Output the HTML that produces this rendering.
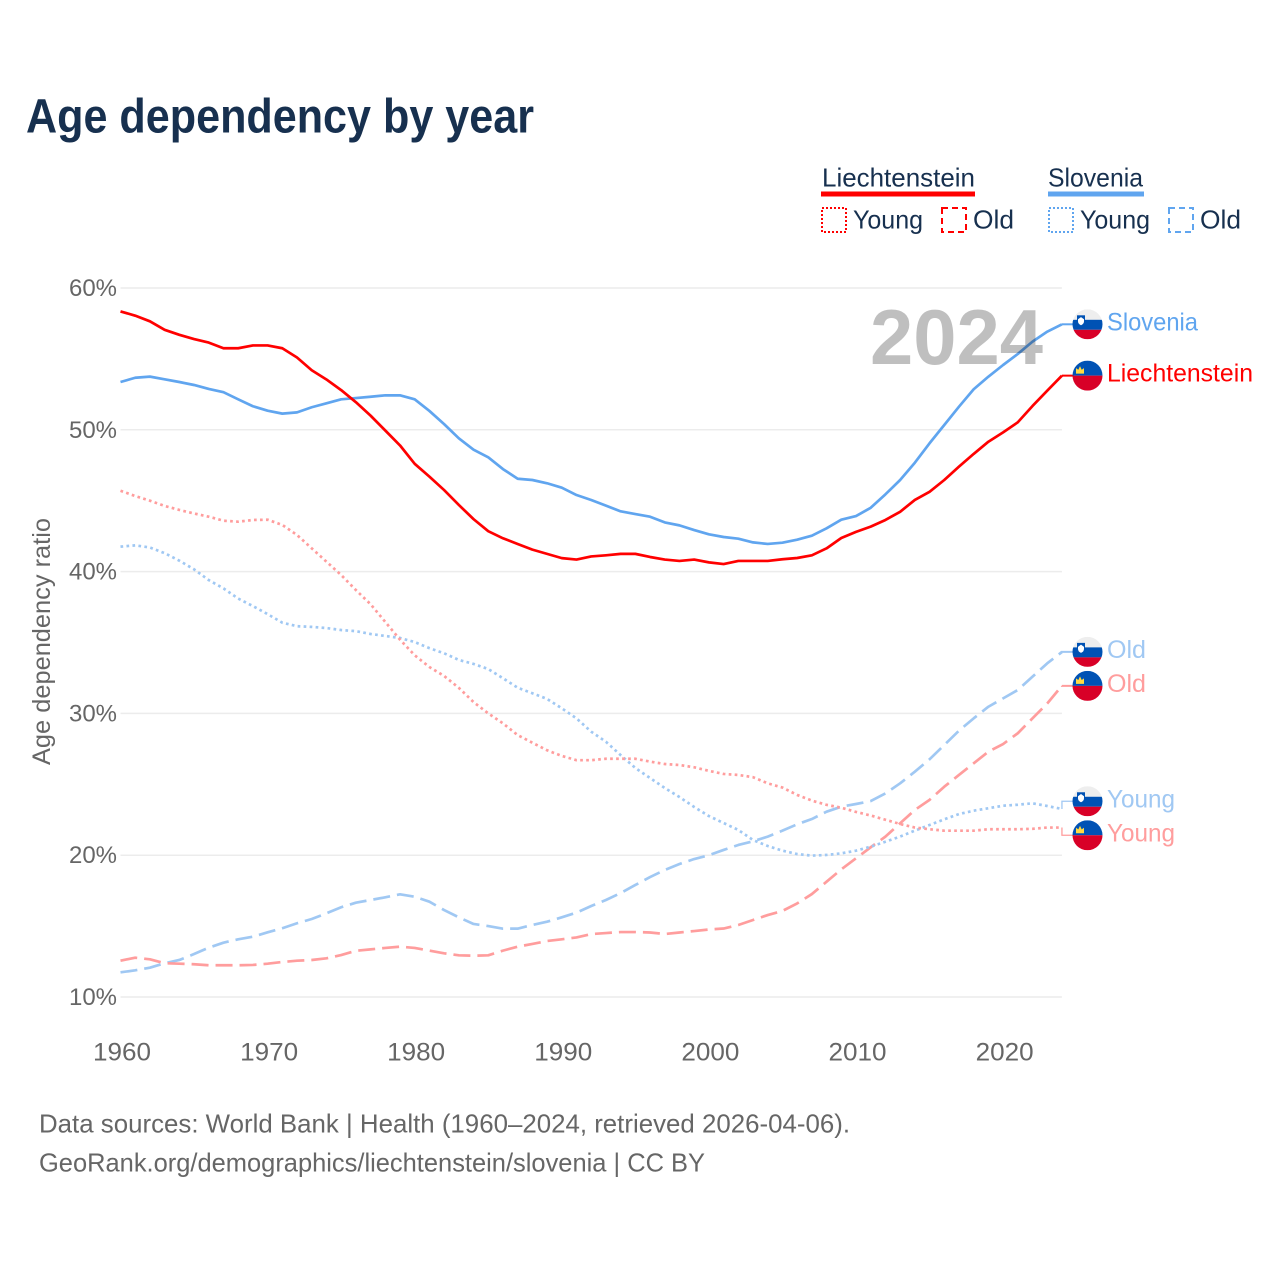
<!DOCTYPE html>
<html lang="en">
<head>
<meta charset="utf-8">
<title>Age dependency by year</title>
<style>
html,body{margin:0;padding:0;background:#fff;}
svg{display:block;font-family:"Liberation Sans",sans-serif;}
</style>
</head>
<body>
<svg id="chart" xmlns="http://www.w3.org/2000/svg" width="1280" height="1280" viewBox="0 0 1280 1280">
  <rect x="0" y="0" width="1280" height="1280" fill="#fff"/>
  <text x="26" y="132.5" font-size="48" font-weight="700" fill="#17304f" textLength="508" lengthAdjust="spacingAndGlyphs">Age dependency by year</text>

  <g fill="#17304f" font-size="26">
    <text x="822" y="186.5" textLength="153" lengthAdjust="spacingAndGlyphs">Liechtenstein</text>
    <rect x="821" y="191.5" width="154" height="5" fill="#ff0000"/>
    <rect x="822" y="208" width="24" height="24" fill="none" stroke="#ff0000" stroke-width="2" stroke-dasharray="2 2"/>
    <text x="853" y="228.5" textLength="70" lengthAdjust="spacingAndGlyphs">Young</text>
    <rect x="942" y="208" width="24" height="24" fill="none" stroke="#ff0000" stroke-width="2" stroke-dasharray="6 4"/>
    <text x="973" y="228.5" textLength="41" lengthAdjust="spacingAndGlyphs">Old</text>
    <text x="1048" y="186.5" textLength="95" lengthAdjust="spacingAndGlyphs">Slovenia</text>
    <rect x="1048" y="191.5" width="96" height="5" fill="#60a5ef"/>
    <rect x="1049" y="208" width="24" height="24" fill="none" stroke="#60a5ef" stroke-width="2" stroke-dasharray="2 2"/>
    <text x="1080" y="228.5" textLength="70" lengthAdjust="spacingAndGlyphs">Young</text>
    <rect x="1169" y="208" width="24" height="24" fill="none" stroke="#60a5ef" stroke-width="2" stroke-dasharray="6 4"/>
    <text x="1200" y="228.5" textLength="41" lengthAdjust="spacingAndGlyphs">Old</text>
  </g>

  <g id="grid"></g>
  <g id="yticks"></g>
  <g id="xticks"></g>
  <text transform="translate(50,641.5) rotate(-90)" text-anchor="middle" font-size="25" fill="#666" textLength="247" lengthAdjust="spacingAndGlyphs">Age dependency ratio</text>

  <g id="series"></g>
  <text x="870" y="364" font-size="78" font-weight="700" fill="#000" fill-opacity="0.25" textLength="173" lengthAdjust="spacingAndGlyphs">2024</text>
  <g id="endlabels"></g>

  <g font-size="26" fill="#666">
    <text x="39" y="1132.5" textLength="811" lengthAdjust="spacingAndGlyphs">Data sources: World Bank | Health (1960–2024, retrieved 2026-04-06).</text>
    <text x="39" y="1171.5" textLength="666" lengthAdjust="spacingAndGlyphs">GeoRank.org/demographics/liechtenstein/slovenia | CC BY</text>
  </g>
</svg>
<script>
var firstYear = 1960;
var xTickYears = [1960, 1970, 1980, 1990, 2000, 2010, 2020];
var yTickValues = [10, 20, 30, 40, 50, 60];

var liechtensteinTotal = [
  58.35,58.05,57.65,57.05,56.7,56.4,56.15,55.75,55.75,55.95,
  55.95,55.75,55.1,54.2,53.55,52.8,51.95,51.0,49.95,48.9,
  47.6,46.7,45.75,44.7,43.7,42.85,42.35,41.95,41.55,41.25,
  40.95,40.85,41.07,41.15,41.25,41.25,41.03,40.85,40.75,40.85,
  40.65,40.53,40.75,40.75,40.75,40.87,40.96,41.15,41.64,42.37,
  42.8,43.17,43.64,44.22,45.05,45.63,46.46,47.4,48.3,49.16,
  49.82,50.53,51.68,52.76,53.82
];
var sloveniaTotal = [
  53.37,53.67,53.75,53.56,53.37,53.16,52.88,52.65,52.15,51.66,
  51.35,51.14,51.23,51.59,51.87,52.15,52.24,52.33,52.43,52.43,
  52.15,51.33,50.4,49.4,48.6,48.06,47.23,46.55,46.46,46.23,
  45.92,45.4,45.05,44.65,44.25,44.06,43.87,43.47,43.26,42.93,
  42.63,42.44,42.32,42.06,41.95,42.04,42.25,42.53,43.05,43.66,
  43.92,44.5,45.45,46.46,47.68,49.05,50.34,51.63,52.86,53.75,
  54.57,55.35,56.22,56.92,57.44
];
var liechtensteinYoung = [
  45.7,45.33,45.0,44.63,44.35,44.1,43.87,43.59,43.52,43.64,
  43.66,43.29,42.58,41.64,40.7,39.76,38.7,37.7,36.45,35.2,
  34.1,33.27,32.64,31.8,30.8,30.0,29.3,28.47,27.93,27.4,
  27.0,26.7,26.7,26.8,26.8,26.8,26.6,26.43,26.36,26.2,
  25.95,25.73,25.66,25.5,25.07,24.77,24.25,23.85,23.55,23.35,
  23.05,22.8,22.5,22.2,21.95,21.83,21.73,21.73,21.73,21.83,
  21.83,21.83,21.86,21.95,21.95
];
var sloveniaYoung = [
  41.76,41.85,41.7,41.3,40.77,40.16,39.4,38.82,38.1,37.57,
  37.0,36.4,36.15,36.1,36.02,35.88,35.8,35.6,35.46,35.32,
  35.03,34.6,34.24,33.77,33.49,33.13,32.48,31.81,31.42,31.02,
  30.36,29.65,28.71,28.0,27.06,26.15,25.44,24.74,24.1,23.4,
  22.76,22.27,21.78,21.07,20.65,20.32,20.08,19.97,20.02,20.13,
  20.32,20.6,20.95,21.31,21.73,22.13,22.53,22.9,23.14,23.31,
  23.49,23.56,23.66,23.47,23.26
];
var sloveniaOld = [
  11.74,11.88,12.07,12.38,12.61,13.03,13.48,13.83,14.07,14.25,
  14.56,14.85,15.2,15.5,15.9,16.33,16.65,16.84,17.03,17.24,
  17.07,16.72,16.13,15.62,15.15,15.0,14.82,14.82,15.08,15.31,
  15.62,15.95,16.42,16.84,17.33,17.9,18.46,18.96,19.38,19.73,
  20.0,20.37,20.72,20.98,21.31,21.73,22.18,22.55,23.07,23.42,
  23.61,23.82,24.36,25.07,25.89,26.76,27.77,28.78,29.65,30.47,
  31.06,31.65,32.59,33.53,34.33
];
var liechtensteinOld = [
  12.56,12.77,12.66,12.38,12.35,12.31,12.24,12.24,12.24,12.26,
  12.35,12.47,12.56,12.61,12.73,12.96,13.26,13.36,13.46,13.55,
  13.46,13.27,13.08,12.94,12.91,12.94,13.27,13.55,13.74,13.95,
  14.07,14.2,14.44,14.51,14.58,14.58,14.55,14.44,14.55,14.65,
  14.76,14.83,15.08,15.43,15.78,16.07,16.6,17.26,18.13,19.0,
  19.78,20.56,21.31,22.25,23.19,23.9,24.83,25.66,26.48,27.3,
  27.84,28.6,29.65,30.7,31.95
];

var NS = 'http://www.w3.org/2000/svg';
function xScale(year) { return 120.5 + (year - firstYear) * 14.71; }
function yScale(v) { return 288 + (60 - v) * 14.18; }
function make(tag, attrs, parent) {
  var node = document.createElementNS(NS, tag);
  for (var k in attrs) node.setAttribute(k, attrs[k]);
  parent.appendChild(node);
  return node;
}

var gridG = document.getElementById('grid');
var yTicksG = document.getElementById('yticks');
var xTicksG = document.getElementById('xticks');
var seriesG = document.getElementById('series');
var labelsG = document.getElementById('endlabels');

yTickValues.forEach(function (v) {
  var line = make('line', {x1: 120.5, x2: xScale(2024), y1: yScale(v), y2: yScale(v), stroke: '#ececec', 'stroke-width': 1.5}, gridG);
  
  
  var t = make('text', {x: 69, y: yScale(v) + 8, 'font-size': 24.5, fill: '#666', textLength: 48, lengthAdjust: 'spacingAndGlyphs'}, yTicksG);
  
  
  t.textContent = v + '%';
});
xTickYears.forEach(function (y) {
  var t = make('text', {x: xScale(y) + 1.5 - 29, y: 1060.5, 'font-size': 25, fill: '#666', textLength: 58, lengthAdjust: 'spacingAndGlyphs'}, xTicksG);
  
  
  t.textContent = y;
});

var seriesList = [
  {key: 'slovenia-old', values: sloveniaOld, color: '#a0c8f3', width: 2.7, dash: '17 7', label: 'Old', country: 'SI', textW: 39},
  {key: 'liechtenstein-old', values: liechtensteinOld, color: '#ff9d9d', width: 2.7, dash: '17 7', label: 'Old', country: 'LI', textW: 39},
  {key: 'slovenia-young', values: sloveniaYoung, color: '#a0c8f3', width: 2.7, dash: '2.7 3.3', label: 'Young', country: 'SI', textW: 68},
  {key: 'liechtenstein-young', values: liechtensteinYoung, color: '#ff9d9d', width: 2.7, dash: '2.7 3.3', label: 'Young', country: 'LI', textW: 68},
  {key: 'slovenia-total', values: sloveniaTotal, color: '#60a5ef', width: 2.7, dash: 'none', label: 'Slovenia', country: 'SI', textW: 91},
  {key: 'liechtenstein-total', values: liechtensteinTotal, color: '#ff0000', width: 2.7, dash: 'none', label: 'Liechtenstein', country: 'LI', textW: 146}
];

seriesList.forEach(function (s) {
  var pts = s.values.map(function (v, i) {
    return xScale(firstYear + i).toFixed(2) + ',' + yScale(v).toFixed(2);
  }).join(' ');
  var line = make('polyline', {points: pts, fill: 'none', stroke: s.color, 'stroke-width': s.width, 'stroke-dasharray': s.dash, 'stroke-linejoin': 'round'}, seriesG);
  
  
});

/* dodge end labels: groups closer than the label pitch are spread around their mean */
var pitch = 34;
var ordered = seriesList.map(function (s) {
  return {s: s, end: yScale(s.values[s.values.length - 1])};
}).sort(function (a, b) { return a.end - b.end; });
var clusters = [];
ordered.forEach(function (o) {
  var last = clusters[clusters.length - 1];
  if (last && o.end - last[last.length - 1].end < pitch) last.push(o);
  else clusters.push([o]);
});
clusters.forEach(function (c) {
  var mean = c.reduce(function (a, o) { return a + o.end; }, 0) / c.length;
  c.forEach(function (o, i) { o.y = mean + (i - (c.length - 1) / 2) * pitch; });
});

ordered.forEach(function (o, idx) {
  var s = o.s, xEnd = xScale(2024), r = 15, cx = 1087.5, cy = o.y;
  var isYoung = s.label === 'Young';
  var connector = make('polyline', {
    points: xEnd + ',' + o.end + ' ' + xEnd + ',' + cy + ' 1074,' + cy,
    fill: 'none', stroke: s.color, 'stroke-width': isYoung ? 1.3 : 2
  }, labelsG);
  
  

  var g = make('g', {}, labelsG);
  
  
  var clip = make('clipPath', {id: 'flagclip' + idx}, g);
  make('circle', {cx: cx, cy: cy, r: r}, clip);
  var inner = make('g', {'clip-path': 'url(#flagclip' + idx + ')'}, g);
  var top = cy - r;
  if (s.country === 'SI') {
    make('rect', {x: cx - r, y: top, width: 30, height: 10.5, fill: '#eeeeee'}, inner);
    make('rect', {x: cx - r, y: top + 10.5, width: 30, height: 10, fill: '#0052b4'}, inner);
    make('rect', {x: cx - r, y: top + 20.5, width: 30, height: 9.5, fill: '#d80027'}, inner);
    make('rect', {x: cx - 10.5, y: top + 6, width: 8, height: 5, fill: '#0052b4'}, inner);
    make('path', {d: 'M' + (cx - 9.5) + ' ' + (top + 10) + 'l3-2.2l3 2.2v2q0 2.8-3 4q-3-1.2-3-4z', fill: '#ffffff'}, inner);
  } else {
    make('path', {d: 'M' + (cx - 11.5) + ' ' + (top + 13) + 'v-5.5l2.3 1.6l1.7-3.6l1.7 3.6l2.3-1.6v5.5z', fill: '#ffda44'}, inner);
    make('rect', {x: cx - r, y: top, width: 30, height: 15, fill: '#0052b4'}, inner);
    make('rect', {x: cx - r, y: top + 15, width: 30, height: 15, fill: '#d80027'}, inner);
    make('path', {d: 'M' + (cx - 11.5) + ' ' + (top + 13) + 'v-5.5l2.3 1.6l1.7-3.6l1.7 3.6l2.3-1.6v5.5z', fill: '#ffda44'}, inner);
  }

  var label = make('text', {x: 1107, y: cy + 6, 'font-size': 25, fill: s.color, textLength: s.textW, lengthAdjust: 'spacingAndGlyphs'}, labelsG);
  
  
  label.textContent = s.label;
});
</script>
</body>
</html>
